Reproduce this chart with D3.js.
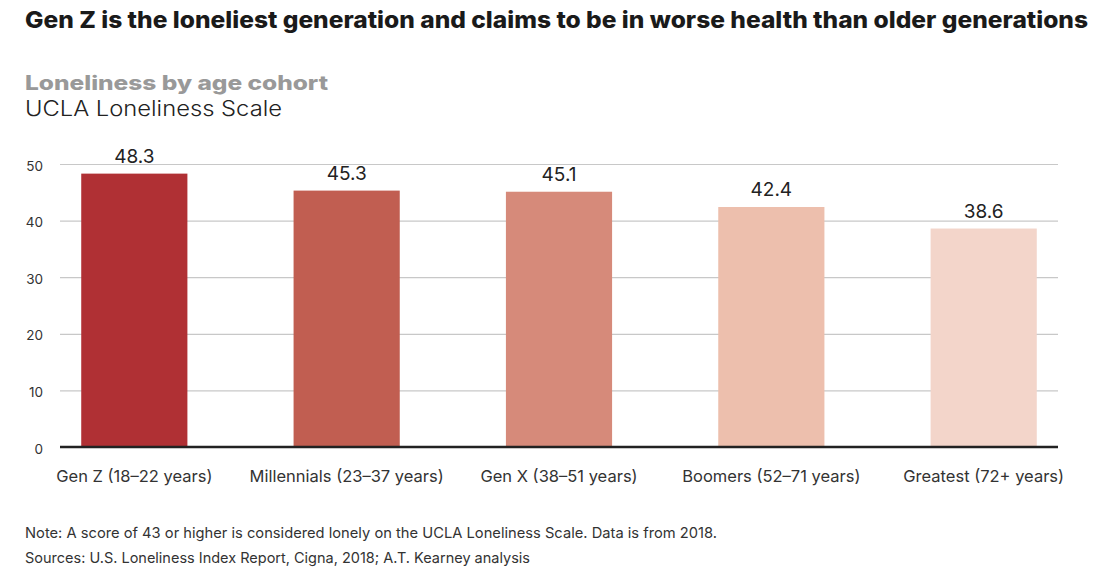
<!DOCTYPE html>
<html>
<head>
<meta charset="utf-8">
<script src="https://cdn.jsdelivr.net/npm/d3@7"></script>
<style>
  body { margin: 0; background: #fff; }
  text { font-family: Inter, "Noto Sans", sans-serif; }
</style>
</head>
<body>
<div id="chart"></div>
<script>
// data
var cohorts = ["Gen Z (18\u201322 years)", "Millennials (23\u201337 years)", "Gen X (38\u201351 years)",
    "Boomers (52\u201371 years)", "Greatest (72+ years)"];
var scores = [48.3, 45.3, 45.1, 42.4, 38.6];
var barColors = ["#b03034", "#c15e51", "#d68a7a", "#edbfad", "#f3d5ca"];
var yTicks = [0, 10, 20, 30, 40, 50];

var svgWidth = 1101;
var svgHeight = 575;

var svg = d3.select("#chart")
    .append("svg")
    .attr("width", svgWidth)
    .attr("height", svgHeight);

// plot area edges
var plot = { left: 60, right: 1058, top: 164, bottom: 447 };

var x = d3.scaleBand()
    .domain(cohorts)
    .range([plot.left, plot.right])
    .paddingInner(0.5)
    .paddingOuter(0.1);

var y = d3.scaleLinear()
    .domain([0, 50])
    .range([plot.bottom, plot.top]);

// titles
function fitText(sel, w) {
    sel.attr("textLength", w).attr("lengthAdjust", "spacingAndGlyphs");
}

svg.append("text")
    .attr("x", 25).attr("y", 28)
    .attr("font-size", 23).attr("font-weight", 800)
    .attr("fill", "#1a1a1a")
    .text("Gen Z is the loneliest generation and claims to be in worse health than older generations")
    .call(fitText, 1063);

svg.append("text")
    .attr("x", 25).attr("y", 90)
    .attr("font-size", 20).attr("font-weight", 800)
    .attr("fill", "#999")
    .text("Loneliness by age cohort")
    .call(fitText, 303);

svg.append("text")
    .attr("x", 25).attr("y", 116)
    .attr("font-size", 21).attr("font-weight", 300)
    .attr("fill", "#222")
    .text("UCLA Loneliness Scale")
    .call(fitText, 257);

// gridlines + y labels
var yAxis = svg.append("g")
    .attr("transform", `translate(${plot.left},0)`)
    .call(d3.axisLeft(y).tickValues(yTicks).tickSize(-(plot.right - plot.left)).tickPadding(17));

yAxis.select(".domain").remove();
yAxis.selectAll(".tick line").attr("stroke", "#c8c8c8").attr("stroke-width", 1.2);
yAxis.selectAll(".tick text")
    .attr("font-size", 13.5)
    .attr("fill", "#333")
    .attr("dy", "0.45em")
    .style("font-family", "Inter, sans-serif");

// bars
svg.append("g").selectAll("rect")
    .data(scores)
    .enter()
    .append("rect")
    .attr("x", (d, i) => x(cohorts[i]))
    .attr("y", d => y(d))
    .attr("width", x.bandwidth())
    .attr("height", d => y(0) - y(d))
    .attr("fill", (d, i) => barColors[i]);

// value labels
svg.append("g").selectAll("text")
    .data(scores)
    .enter()
    .append("text")
    .attr("x", (d, i) => x(cohorts[i]) + x.bandwidth() / 2)
    .attr("y", d => y(d) - 11)
    .attr("text-anchor", "middle")
    .attr("font-size", 19)
    .attr("fill", "#222")
    .text(d => d.toFixed(1));

// baseline
svg.append("line")
    .attr("x1", plot.left).attr("x2", plot.right)
    .attr("y1", y(0)).attr("y2", y(0))
    .attr("stroke", "#222").attr("stroke-width", 2.5);

// category labels
var xAxis = svg.append("g")
    .attr("transform", `translate(0,${plot.bottom})`)
    .call(d3.axisBottom(x).tickSize(0).tickPadding(23));
xAxis.select(".domain").remove();
xAxis.selectAll(".tick text")
    .attr("font-size", 16.5)
    .attr("fill", "#333")
    .style("font-family", "Inter, sans-serif");

// notes
svg.append("text")
    .attr("x", 25).attr("y", 538)
    .attr("font-size", 14.5).attr("fill", "#333")
    .text("Note: A score of 43 or higher is considered lonely on the UCLA Loneliness Scale. Data is from 2018.")
    .call(fitText, 692);

svg.append("text")
    .attr("x", 25).attr("y", 563)
    .attr("font-size", 14.5).attr("fill", "#333")
    .text("Sources: U.S. Loneliness Index Report, Cigna, 2018; A.T. Kearney analysis")
    .call(fitText, 505);
</script>
</body>
</html>
